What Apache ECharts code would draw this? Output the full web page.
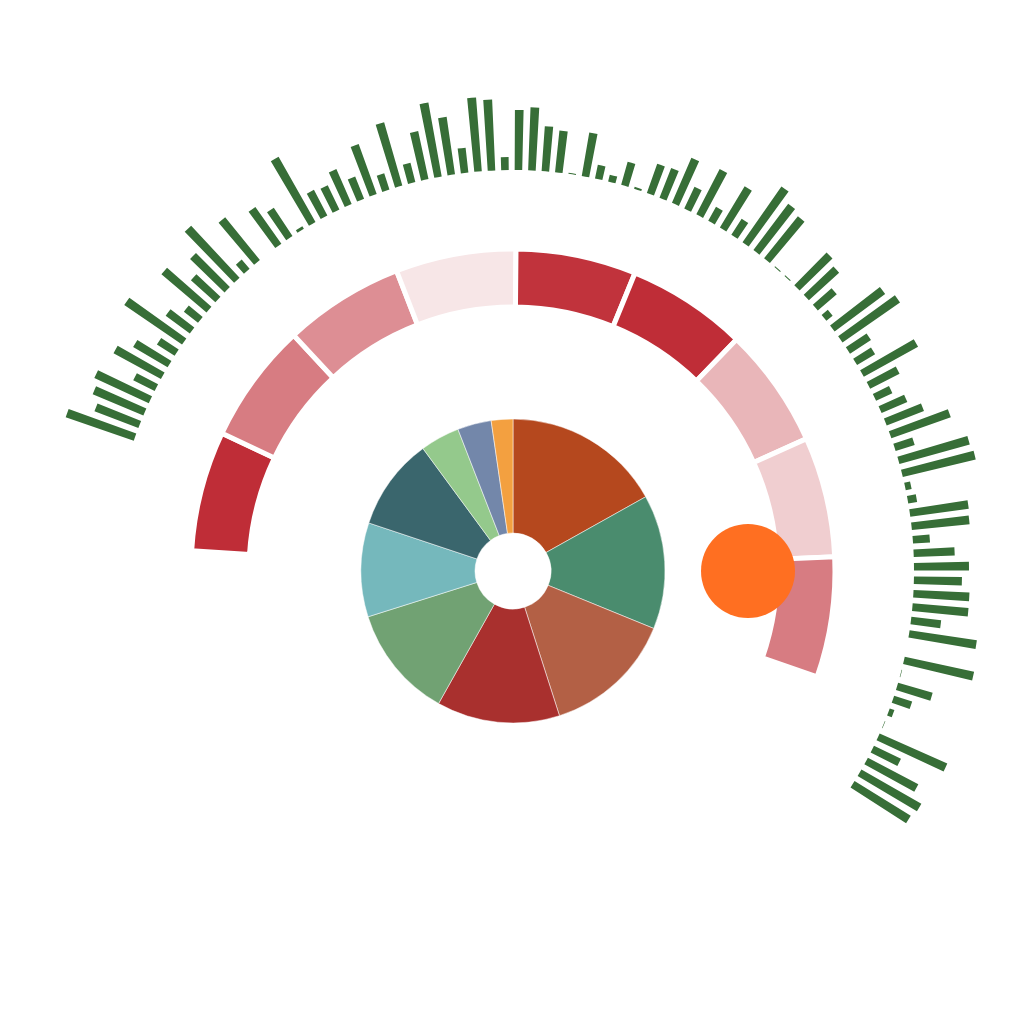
<!DOCTYPE html>
<html>
<head>
<meta charset="utf-8">
<script src="https://cdn.jsdelivr.net/npm/echarts@6/dist/echarts.min.js"></script>
<style>
html,body{margin:0;padding:0;background:#ffffff;}
#chart{width:1024px;height:1024px;}
</style>
</head>
<body>
<div id="chart"></div>
<script>
// ---- inner pie ----
const pieNames = ['P1','P2','P3','P4','P5','P6','P7','P8','P9','P10'];
const pieValues = [16.9, 14.3, 13.9, 13.1, 12.0, 10.0, 9.8, 4.2, 3.6, 2.3];
const pieColors = ['#b5481e','#4a8c6e','#b36045','#a9302e','#71a273','#75b8bc','#3a666d','#94c98c','#7387aa','#f3a040'];

// ---- middle ring ----
const ringNames = ['R1','R2','R3','R4','R5','R6','R7','R8','R9'];
const ringScores = [100, 58, 48, 1, 97, 100, 27, 14, 58];

// ---- outer radial bars ----
const barValues = [
  72, 47, 55, 60, 24, 54, 40, 21, 70, 30,
  18, 59, 33, 48, 71, 12, 55, 0, 45, 34,
  3, 75, 29, 27, 38, 24, 53, 17, 66, 20,
  49, 75, 58, 25, 74, 71, 13, 60, 63, 45,
  42, 1, 44, 14, 7, 24, 2, 31, 32, 49,
  24, 51, 16, 48, 19, 68, 58, 54, 1, 1,
  46, 41, 25, 8, 63, 70, 25, 21, 62, 33,
  18, 28, 40, 63, 20, 73, 75, 6, 9, 59,
  58, 17, 41, 55, 48, 56, 56, 30, 68, 0,
  71, 0.5, 36, 19, 5, 0.5, 74, 30, 57, 69,
  66
];
const barSlots = barValues.map((v, i) => 'S' + (i + 1));

// ---- dot ----
const dotPoint = [235, 90]; // [radius, angle]

const CENTER = [513, 571];
const hidden = {
  axisLine: {show: false}, axisTick: {show: false},
  axisLabel: {show: false}, splitLine: {show: false}, splitArea: {show: false}
};

const option = {
  animation: false,
  backgroundColor: '#ffffff',
  polar: [
    {center: CENTER, radius: [401, 477]},
    {center: CENTER, radius: [264, 322]},
    {center: CENTER, radius: [0, 320]}
  ],
  angleAxis: [
    Object.assign({polarIndex: 0, type: 'category', data: barSlots, startAngle: 161.46, endAngle: -33.1, clockwise: true}, hidden),
    Object.assign({polarIndex: 1, type: 'category', data: ringNames, startAngle: 176.4, endAngle: -19.2, clockwise: true}, hidden),
    Object.assign({polarIndex: 2, type: 'value', min: 0, max: 360, startAngle: 90, clockwise: true}, hidden)
  ],
  radiusAxis: [
    Object.assign({polarIndex: 0, type: 'value', min: 0, max: 76}, hidden),
    Object.assign({polarIndex: 1, type: 'value', min: 0, max: 1}, hidden),
    Object.assign({polarIndex: 2, type: 'value', min: 0, max: 320}, hidden)
  ],
  visualMap: {
    show: false,
    type: 'continuous',
    seriesIndex: 1,
    dimension: 2,
    min: 0,
    max: 100,
    inRange: {color: ['#f8e8e9', '#bf2d37']}
  },
  series: [
    {
      type: 'bar',
      coordinateSystem: 'polar',
      polarIndex: 0,
      data: barValues,
      barWidth: '56%',
      itemStyle: {color: '#376e37'},
      silent: true
    },
    {
      type: 'bar',
      coordinateSystem: 'polar',
      polarIndex: 1,
      data: ringNames.map((n, i) => [1, n, ringScores[i]]),
      barCategoryGap: '0%',
      barWidth: '100%',
      itemStyle: {borderColor: '#ffffff', borderWidth: 5},
      silent: true
    },
    {
      type: 'pie',
      center: CENTER,
      radius: [38, 152],
      startAngle: 90,
      clockwise: true,
      label: {show: false},
      labelLine: {show: false},
      itemStyle: {borderColor: '#ffffff', borderWidth: 0.5},
      data: pieNames.map((n, i) => ({name: n, value: pieValues[i], itemStyle: {color: pieColors[i]}})),
      silent: true
    },
    {
      type: 'scatter',
      coordinateSystem: 'polar',
      polarIndex: 2,
      data: [dotPoint],
      symbolSize: 94,
      itemStyle: {color: '#ff6f21', opacity: 1},
      z: 10,
      silent: true
    }
  ]
};

const chart = echarts.init(document.getElementById('chart'), null, {renderer: 'canvas'});
chart.setOption(option);
</script>
</body>
</html>
